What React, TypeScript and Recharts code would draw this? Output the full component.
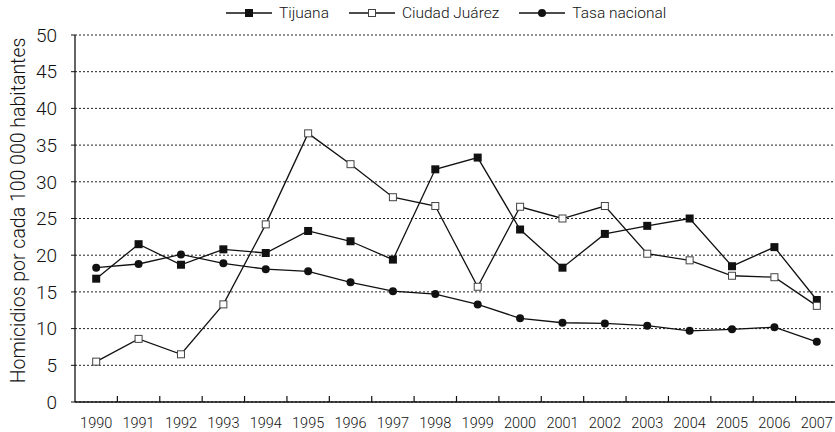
import { LineChart, Line, XAxis, YAxis, CartesianGrid, Legend } from "recharts";

document.body.style.margin = "0";

const years = [1990, 1991, 1992, 1993, 1994, 1995, 1996, 1997, 1998, 1999, 2000, 2001, 2002, 2003, 2004, 2005, 2006, 2007];
const tijuana = [16.8, 21.5, 18.7, 20.8, 20.3, 23.3, 21.9, 19.4, 31.7, 33.3, 23.5, 18.3, 22.9, 24.0, 25.0, 18.5, 21.1, 13.9];
const ciudadJuarez = [5.5, 8.6, 6.5, 13.3, 24.2, 36.6, 32.4, 27.9, 26.7, 15.7, 26.6, 25.0, 26.7, 20.2, 19.3, 17.2, 17.0, 13.1];
const tasaNacional = [18.3, 18.8, 20.1, 18.9, 18.1, 17.8, 16.3, 15.1, 14.7, 13.3, 11.4, 10.8, 10.7, 10.4, 9.7, 9.9, 10.2, 8.2];
const yTicks = [0, 5, 10, 15, 20, 25, 30, 35, 40, 45, 50];
const yLabel = "Homicidios por cada 100 000 habitantes";
const legendOrder = ["tijuana", "juarez", "nacional"];

// labels on the years, tick marks half way between them
const xTicks = years.flatMap((y, i) => (i < years.length - 1 ? [y, y + 0.5] : [y]));

const data = years.map((year, i) => ({
  year,
  tijuana: tijuana[i],
  juarez: ciudadJuarez[i],
  nacional: tasaNacional[i],
}));

const FONT = "Roboto, 'Open Sans', sans-serif";

const Marker = ({ kind, cx, cy }: { kind: string; cx: number; cy: number }) => {
  if (kind === "filledSquare") return <rect x={cx - 4} y={cy - 4} width={8} height={8} fill="#111" />;
  if (kind === "openSquare")
    return <rect x={cx - 3.5} y={cy - 3.5} width={7} height={7} fill="#fff" stroke="#444" strokeWidth={1} />;
  return <circle cx={cx} cy={cy} r={4} fill="#111" />;
};

const makeDot = (kind: string) => (p: any) =>
  <Marker key={`${kind}-${p.index}`} kind={kind} cx={p.cx} cy={p.cy} />;

const kinds: Record<string, string> = {
  tijuana: "filledSquare",
  juarez: "openSquare",
  nacional: "circle",
};

const LegendContent = ({ payload }: any) => {
  const items = [...(payload || [])].sort(
    (a: any, b: any) => legendOrder.indexOf(a.dataKey) - legendOrder.indexOf(b.dataKey)
  );
  return (
    <div style={{ display: "flex", alignItems: "center", fontFamily: FONT, fontWeight: 300, fontSize: 15.5, color: "#111" }}>
      {items.map((entry: any) => (
        <div key={entry.value} style={{ display: "flex", alignItems: "center", marginRight: 20 }}>
          <svg width={46} height={12} style={{ marginRight: 7 }}>
            <line x1={0} x2={46} y1={6} y2={6} stroke="#111" strokeWidth={1.3} />
            <Marker kind={kinds[entry.dataKey]} cx={23} cy={6} />
          </svg>
          <span>{entry.value}</span>
        </div>
      ))}
    </div>
  );
};

const XTick = ({ x, y, payload }: any) => {
  const v = payload.value;
  if (!Number.isInteger(v)) {
    return <line x1={x} x2={x} y1={y} y2={y - 6} stroke="#111" strokeWidth={1.2} />;
  }
  return (
    <text x={x} y={y + 26} textAnchor="middle" fontFamily={FONT} fontWeight={300} fontSize={14.5} fill="#111">
      {v}
    </text>
  );
};

const YTitle = ({ viewBox }: any) => {
  const cx = 25;
  const cy = viewBox.y + viewBox.height / 2 - 8;
  return (
    <text
      x={cx}
      y={cy}
      transform={`rotate(-90, ${cx}, ${cy})`}
      textAnchor="middle"
      fontFamily={FONT}
      fontWeight={300}
      fontSize={19.5}
      fill="#111"
    >
      {yLabel}
    </text>
  );
};

export default function App() {
  return (
    <div style={{ width: 835, height: 432, overflow: "hidden", background: "#fff" }}>
      <LineChart width={840} height={432} data={data} margin={{ top: 15, right: 2, bottom: 0, left: 0 }}>
        <CartesianGrid vertical={false} stroke="#222" strokeDasharray="2 2" />
        <XAxis
          dataKey="year"
          type="number"
          domain={[1989.5, 2007.5]}
          ticks={xTicks}
          interval={0}
          tick={<XTick />}
          tickLine={false}
          tickSize={0}
          tickMargin={0}
          height={30}
          axisLine={{ stroke: "#111", strokeWidth: 1.3 }}
        />
        <YAxis
          domain={[0, 50]}
          ticks={yTicks}
          interval={0}
          width={75}
          tickSize={4}
          tickMargin={14}
          tickLine={{ stroke: "#111" }}
          axisLine={{ stroke: "#111", strokeWidth: 1.3 }}
          tick={{ fontFamily: FONT, fontWeight: 300, fontSize: 19, fill: "#111" }}
          label={<YTitle />}
        />
        <Legend
          verticalAlign="top"
          height={20}
          content={<LegendContent />}
          wrapperStyle={{ top: 4, left: 226, width: 500, height: 20 }}
        />
        <Line
          dataKey="tijuana"
          name="Tijuana"
          stroke="#111"
          strokeWidth={1.3}
          dot={makeDot("filledSquare")}
          isAnimationActive={false}
        />
        <Line
          dataKey="juarez"
          name="Ciudad Juárez"
          stroke="#111"
          strokeWidth={1.3}
          dot={makeDot("openSquare")}
          isAnimationActive={false}
        />
        <Line
          dataKey="nacional"
          name="Tasa nacional"
          stroke="#111"
          strokeWidth={1.3}
          dot={makeDot("circle")}
          isAnimationActive={false}
        />
      </LineChart>
    </div>
  );
}
